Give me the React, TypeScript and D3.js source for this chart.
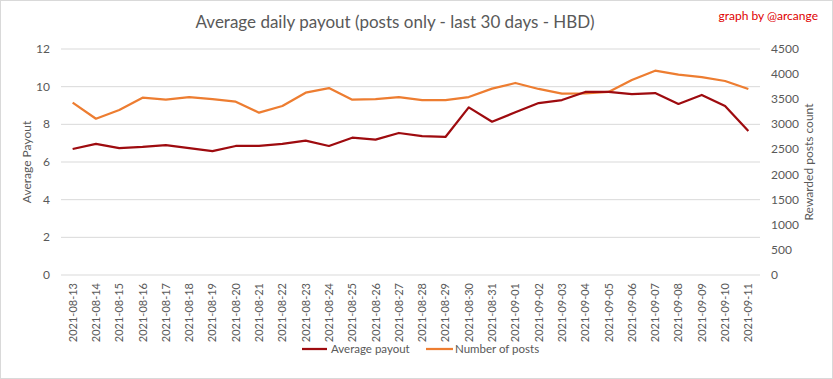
import React, { useEffect } from "react";
import * as d3 from "d3";

const dates = [
  "2021-08-13","2021-08-14","2021-08-15","2021-08-16","2021-08-17","2021-08-18","2021-08-19","2021-08-20",
  "2021-08-21","2021-08-22","2021-08-23","2021-08-24","2021-08-25","2021-08-26","2021-08-27","2021-08-28",
  "2021-08-29","2021-08-30","2021-08-31","2021-09-01","2021-09-02","2021-09-03","2021-09-04","2021-09-05",
  "2021-09-06","2021-09-07","2021-09-08","2021-09-09","2021-09-10","2021-09-11",
];
const avgPayout = [
  6.69, 6.96, 6.74, 6.8, 6.9, 6.74, 6.58, 6.85, 6.85, 6.96, 7.13, 6.85, 7.29, 7.19, 7.54,
  7.38, 7.33, 8.9, 8.14, 8.64, 9.13, 9.29, 9.72, 9.72, 9.61, 9.66, 9.08, 9.56, 8.97, 7.65,
];
const numPosts = [
  3431, 3112, 3285, 3531, 3491, 3544, 3504, 3451, 3232, 3365, 3630, 3723, 3491, 3504, 3544,
  3484, 3484, 3544, 3710, 3823, 3704, 3610, 3617, 3644, 3883, 4068, 3988, 3942, 3863, 3704,
];
const leftTicks = [0, 2, 4, 6, 8, 10, 12];
const rightTicks = [0, 500, 1000, 1500, 2000, 2500, 3000, 3500, 4000, 4500];

const W = 833, H = 379;
const plot = { left: 61, right: 760, top: 49, bottom: 275 };
const font = "Lato, 'Open Sans', sans-serif";
const textColor = "#595959";
const redColor = "#9E0B0F";
const orangeColor = "#ED7D31";

export default function App() {
  useEffect(() => {
    document.body.style.margin = "0";
  }, []);

  const x = d3.scaleBand<string>().domain(dates).range([plot.left, plot.right]);
  const yL = d3.scaleLinear().domain([0, 12]).range([plot.bottom, plot.top]);
  const yR = d3.scaleLinear().domain([0, 4500]).range([plot.bottom, plot.top]);
  const cx = (d: string) => (x(d) as number) + x.bandwidth() / 2;

  const lineL = d3.line<number>().x((_, i) => cx(dates[i])).y((v) => yL(v));
  const lineR = d3.line<number>().x((_, i) => cx(dates[i])).y((v) => yR(v));

  return (
    <svg width={W} height={H} style={{ display: "block", fontFamily: font }}>
      <rect x={0.5} y={0.5} width={W - 1} height={H - 1} fill="#fff" stroke="#D9D9D9" />
      <text x={395} y={28} textAnchor="middle" fontSize={17} fill={textColor}>
        Average daily payout (posts only - last 30 days - HBD)
      </text>
      <text x={818} y={20} textAnchor="end" fontSize={12} fill="#E00000">
        graph by @arcange
      </text>
      {leftTicks.map((t) => (
        <line key={t} x1={plot.left} x2={plot.right} y1={yL(t)} y2={yL(t)} stroke="#D9D9D9" strokeWidth={1} />
      ))}
      {leftTicks.map((t) => (
        <text key={"l" + t} x={50} y={yL(t) + 4} textAnchor="end" fontSize={12} fill={textColor}>
          {t}
        </text>
      ))}
      {rightTicks.map((t) => (
        <text key={"r" + t} x={771} y={yR(t) + 4} textAnchor="start" fontSize={12} fill={textColor}>
          {t}
        </text>
      ))}
      <text transform={`translate(31,${(plot.top + plot.bottom) / 2}) rotate(-90)`} textAnchor="middle" fontSize={12} fill={textColor}>
        Average Payout
      </text>
      <text transform={`translate(813,${(plot.top + plot.bottom) / 2}) rotate(-90)`} textAnchor="middle" fontSize={12} fill={textColor}>
        Rewarded posts count
      </text>
      {dates.map((d) => (
        <text key={d} transform={`translate(${cx(d) + 4},283) rotate(-90)`} textAnchor="end" fontSize={11} fill={textColor}>
          {d}
        </text>
      ))}
      <path d={lineR(numPosts) || ""} fill="none" stroke={orangeColor} strokeWidth={2.25} strokeLinejoin="round" />
      <path d={lineL(avgPayout) || ""} fill="none" stroke={redColor} strokeWidth={2.25} strokeLinejoin="round" />
      <line x1={302} x2={327} y1={349} y2={349} stroke={redColor} strokeWidth={2.25} />
      <text x={331} y={353} fontSize={11.5} fill={textColor}>Average payout</text>
      <line x1={426} x2={453} y1={349} y2={349} stroke={orangeColor} strokeWidth={2.25} />
      <text x={455} y={353} fontSize={11.5} fill={textColor}>Number of posts</text>
    </svg>
  );
}
